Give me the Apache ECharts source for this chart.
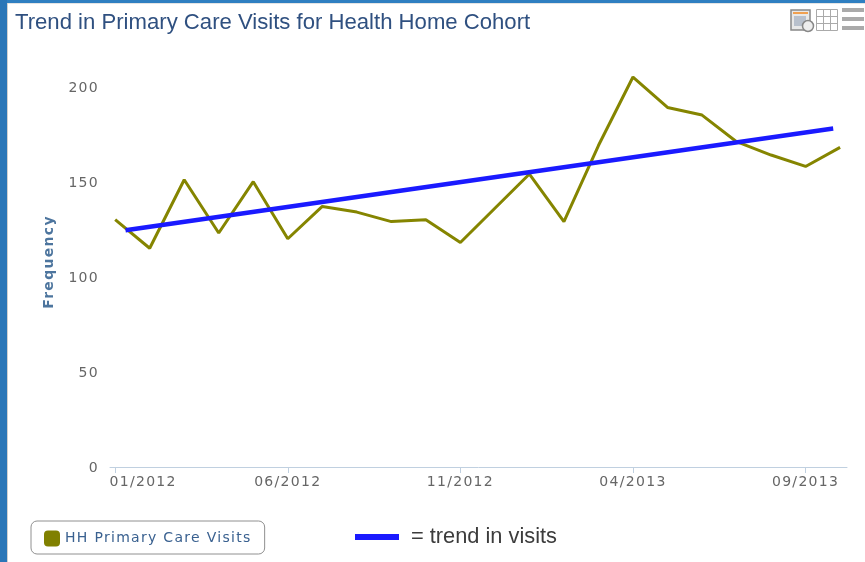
<!DOCTYPE html>
<html><head><meta charset="utf-8">
<style>html,body{margin:0;padding:0;background:#fff}#c{width:865px;height:562px}</style>
<script src="https://cdn.jsdelivr.net/npm/echarts@6/dist/echarts.min.js"></script>
</head><body><div id="c"></div>
<script>
const months = ['01/2012','02/2012','03/2012','04/2012','05/2012','06/2012','07/2012','08/2012','09/2012','10/2012','11/2012','12/2012','01/2013','02/2013','03/2013','04/2013','05/2013','06/2013','07/2013','08/2013','09/2013','10/2013'];
const visits = [130,115,151,123,150,120,137,134,129,130,118,136,154,129,169,205,189,185,171,164,158,168];
const trendX = [0.3,20.8];
const trendY = [124.5,178];
const tickAt = [0,5,10,15,20];
const labelAt = [0.81,5,10,15,20];
const seriesName = 'HH Primary Care Visits';
const trendName = '= trend in visits';

// The reference's Verdana-like labels are letter-spaced: apply tracking to that one font.
const fontDesc = Object.getOwnPropertyDescriptor(CanvasRenderingContext2D.prototype,'font');
Object.defineProperty(CanvasRenderingContext2D.prototype,'font',{
  get(){return fontDesc.get.call(this);},
  set(v){fontDesc.set.call(this,v);this.letterSpacing=String(v).includes('DejaVu')?'1.3px':'0px';}
});

const chart = echarts.init(document.getElementById('c'));
const g = (x,y,w,h,fill,extra)=>Object.assign({type:'rect',shape:{x,y,width:w,height:h},style:{fill},silent:true},extra||{});
chart.setOption({
  animation:false,
  backgroundColor:'#fff',
  title:{text:'Trend in Primary Care Visits for Health Home Cohort',left:10,top:7,
    textStyle:{fontFamily:'Liberation Sans',fontSize:22.13,fontWeight:'normal',color:'#2f5080'}},
  grid:{left:110,right:18,top:39,bottom:95,containLabel:false},
  legend:[
    {data:[seriesName],left:31,top:521,padding:[9.5,13,7.5,13],itemGap:0,
     icon:'roundRect',itemWidth:16,itemHeight:16,borderColor:'#909090',borderWidth:1,borderRadius:6,
     textStyle:{fontFamily:'DejaVu Sans',fontSize:14,color:'#3a6190'},selectedMode:false},
    {data:[{name:trendName,icon:'rect',itemStyle:{color:'#1a1aff'}}],left:355,top:526,padding:0,
     itemWidth:44,itemHeight:6,
     textStyle:{fontFamily:'Liberation Sans',fontSize:21.8,color:'#3c3c3c',padding:[2,0,0,7]},selectedMode:false}
  ],
  xAxis:{type:'value',min:-0.15,max:21.2,splitLine:{show:false},
    axisLine:{show:true,onZero:false,lineStyle:{color:'#c0d0e0',width:1}},
    axisTick:{show:true,length:6,inside:false,lineStyle:{color:'#c0d0e0'},customValues:tickAt},
    axisLabel:{color:'#666',fontFamily:'DejaVu Sans',fontSize:14,margin:8,customValues:labelAt,
      formatter:v=>months[Math.floor(v)]}},
  yAxis:{type:'value',min:0,max:225,interval:50,splitLine:{show:false},
    axisLine:{show:false},axisTick:{show:false},
    axisLabel:{color:'#666',fontFamily:'DejaVu Sans',fontSize:14,margin:11,showMaxLabel:false,
      formatter:v=>'{a|'+v+'}',
      rich:{a:{color:'#666',fontFamily:'DejaVu Sans',fontSize:14,padding:[3,0,0,0]}}},
    name:'Frequency',nameLocation:'middle',nameGap:52,nameRotate:90,
    nameTextStyle:{color:'#4d759e',fontFamily:'DejaVu Sans',fontSize:14,fontWeight:'bold',padding:[0,18,0,0]}},
  series:[
    {name:seriesName,type:'line',data:visits.map((v,i)=>[i,v]),showSymbol:false,symbol:'none',
     lineStyle:{color:'#858500',width:3},itemStyle:{color:'#808000'},z:2},
    {name:trendName,type:'line',data:trendX.map((x,i)=>[x,trendY[i]]),showSymbol:false,symbol:'none',
     lineStyle:{color:'#1a1aff',width:4.5},itemStyle:{color:'#1a1aff'},z:3}
  ],
  graphic:[
    g(0,0,865,3,'#2f7fc1'),
    g(0,0,7,562,'#2a76b8'),
    g(7,3,1,559,'#d0d0d0'),
    g(8,3,857,1,'#e4e4e4'),
    g(791,10,19,20,'#fff',{style:{fill:'#e8e8e8',stroke:'#888',lineWidth:1.5}}),
    g(793,12,15,2,'#f0a050'),
    g(794,16,12,10,'#b8c0cc'),
    {type:'circle',shape:{cx:808,cy:26,r:5.5},style:{fill:'#eee',stroke:'#888',lineWidth:1.5},silent:true},
    g(816.5,9.5,21,21,'#fff',{style:{fill:'#fff',stroke:'#aaa',lineWidth:1}}),
    {type:'line',shape:{x1:823.5,y1:10,x2:823.5,y2:30},style:{stroke:'#aaa'},silent:true},
    {type:'line',shape:{x1:830.5,y1:10,x2:830.5,y2:30},style:{stroke:'#aaa'},silent:true},
    {type:'line',shape:{x1:817,y1:16.5,x2:837,y2:16.5},style:{stroke:'#aaa'},silent:true},
    {type:'line',shape:{x1:817,y1:23.5,x2:837,y2:23.5},style:{stroke:'#aaa'},silent:true},
    g(842,8,22,4,'#aaa'),
    g(842,17,22,4,'#aaa'),
    g(842,26,22,4,'#aaa')
  ]
});
</script></body></html>
